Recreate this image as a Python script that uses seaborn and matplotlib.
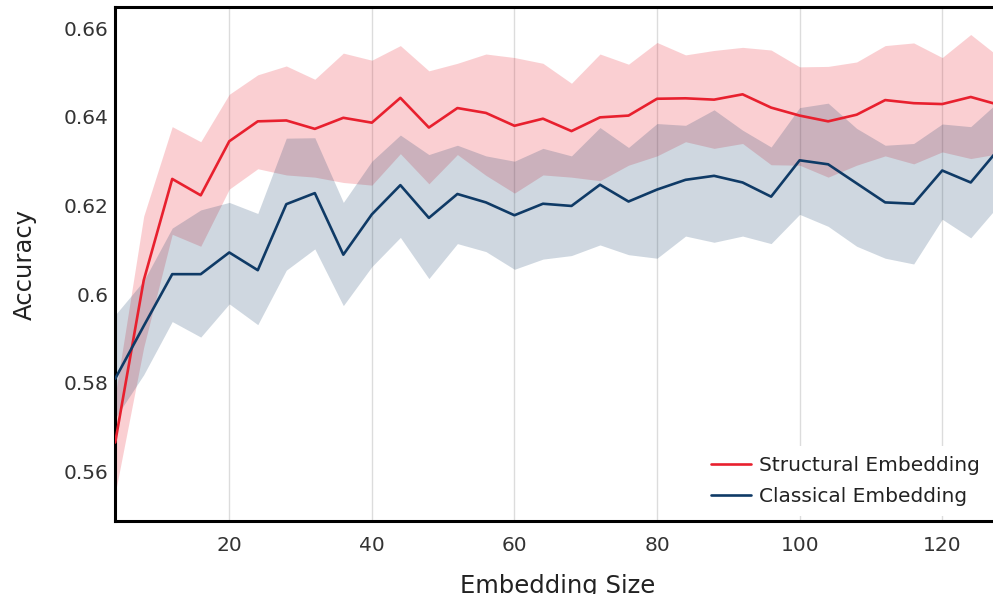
import matplotlib
matplotlib.use("Agg")
import matplotlib.pyplot as plt
import seaborn as sns
import pandas as pd

# Embedding sizes evaluated
sizes = [4, 8, 12, 16, 20, 24, 28, 32, 36, 40, 44, 48, 52, 56, 60, 64,
         68, 72, 76, 80, 84, 88, 92, 96, 100, 104, 108, 112, 116, 120, 124, 128]

# Structural embedding: mean accuracy and band bounds
structural_mean = [0.5665, 0.6031, 0.6260, 0.6223, 0.6345, 0.6390, 0.6392, 0.6373,
                   0.6398, 0.6387, 0.6443, 0.6376, 0.6420, 0.6409, 0.6380, 0.6396,
                   0.6368, 0.6399, 0.6403, 0.6441, 0.6442, 0.6439, 0.6451, 0.6421,
                   0.6403, 0.6390, 0.6405, 0.6438, 0.6431, 0.6429, 0.6445, 0.6427]
structural_upper = [0.5770, 0.6176, 0.6378, 0.6344, 0.6451, 0.6495, 0.6515, 0.6485,
                    0.6544, 0.6528, 0.6561, 0.6504, 0.6521, 0.6542, 0.6534, 0.6521,
                    0.6476, 0.6542, 0.6519, 0.6568, 0.6540, 0.6550, 0.6557, 0.6551,
                    0.6513, 0.6514, 0.6524, 0.6561, 0.6567, 0.6534, 0.6586, 0.6535]
structural_lower = [0.5550, 0.5880, 0.6135, 0.6108, 0.6237, 0.6283, 0.6269, 0.6264,
                    0.6252, 0.6246, 0.6317, 0.6249, 0.6315, 0.6268, 0.6228, 0.6269,
                    0.6264, 0.6256, 0.6291, 0.6312, 0.6344, 0.6329, 0.6340, 0.6292,
                    0.6291, 0.6264, 0.6291, 0.6312, 0.6294, 0.6321, 0.6306, 0.6317]

# Classical embedding: mean accuracy and band bounds
classical_mean = [0.5809, 0.5928, 0.6045, 0.6045, 0.6094, 0.6054, 0.6203, 0.6228,
                  0.6089, 0.6180, 0.6246, 0.6172, 0.6226, 0.6207, 0.6178, 0.6204,
                  0.6199, 0.6247, 0.6209, 0.6236, 0.6258, 0.6267, 0.6252, 0.6220,
                  0.6302, 0.6293, 0.6250, 0.6207, 0.6204, 0.6279, 0.6252, 0.6329]
classical_upper = [0.5953, 0.6030, 0.6149, 0.6190, 0.6207, 0.6182, 0.6352, 0.6353,
                   0.6207, 0.6300, 0.6359, 0.6315, 0.6336, 0.6312, 0.6300, 0.6329,
                   0.6312, 0.6376, 0.6331, 0.6385, 0.6381, 0.6416, 0.6370, 0.6332,
                   0.6421, 0.6431, 0.6374, 0.6336, 0.6340, 0.6384, 0.6378, 0.6436]
classical_lower = [0.5720, 0.5818, 0.5938, 0.5903, 0.5978, 0.5931, 0.6054, 0.6102,
                   0.5974, 0.6062, 0.6128, 0.6035, 0.6114, 0.6096, 0.6056, 0.6079,
                   0.6087, 0.6111, 0.6089, 0.6081, 0.6131, 0.6117, 0.6131, 0.6114,
                   0.6180, 0.6153, 0.6108, 0.6081, 0.6068, 0.6169, 0.6127, 0.6202]

series_names = ["Structural Embedding", "Classical Embedding"]
x_ticks = [20, 40, 60, 80, 100, 120]
y_ticks = [0.56, 0.58, 0.60, 0.62, 0.64, 0.66]
y_tick_labels = ["0.56", "0.58", "0.6", "0.62", "0.64", "0.66"]

RED = "#E8202E"
NAVY = "#0F3A66"

sns.set_theme(style="white")
plt.rcParams["font.family"] = ["DejaVu Sans"]

df = pd.DataFrame({
    "Embedding Size": sizes * 2,
    "Accuracy": structural_mean + classical_mean,
    "Model": [series_names[0]] * len(sizes) + [series_names[1]] * len(sizes),
})

fig = plt.figure(figsize=(9.93, 5.94), dpi=100)
ax = fig.add_axes([0.116, 0.1229, 0.8903, 0.8653])

# Uncertainty bands
ax.fill_between(sizes, structural_lower, structural_upper, color=RED,
                alpha=0.21, linewidth=0, zorder=1)
ax.fill_between(sizes, classical_lower, classical_upper, color=NAVY,
                alpha=0.2, linewidth=0, zorder=1)

sns.lineplot(data=df, x="Embedding Size", y="Accuracy", hue="Model",
             palette=[RED, NAVY], linewidth=1.9, ax=ax, errorbar=None, zorder=3)

ax.set_xlim(4, 128)
ax.set_ylim(0.54878, 0.66481)
ax.set_xticks(x_ticks)
ax.set_xticklabels([str(t) for t in x_ticks])
ax.set_yticks(y_ticks)
ax.set_yticklabels(y_tick_labels)

ax.grid(axis="x", color="#dcdcdc", linewidth=1.0, zorder=0)
ax.grid(axis="y", visible=False)
ax.set_axisbelow(True)

for side in ["left", "top", "bottom", "right"]:
    ax.spines[side].set_color("black")
    ax.spines[side].set_linewidth(2.2)

ax.tick_params(axis="both", length=0, labelsize=14.5, colors="#333333")
ax.tick_params(axis="x", pad=10.5)
ax.tick_params(axis="y", pad=5)

ax.set_xlabel("Embedding Size", fontsize=17.5, color="#222222", labelpad=14)
ax.set_ylabel("Accuracy", fontsize=17.5, color="#222222", labelpad=19)

leg = ax.legend(loc="lower right", bbox_to_anchor=(0.99, 0.01), frameon=True,
                fontsize=14.5, handlelength=2.0, handletextpad=0.4,
                labelspacing=0.6, borderpad=0.5, borderaxespad=0.0)
leg.get_frame().set_facecolor("white")
leg.get_frame().set_edgecolor("none")
leg.get_frame().set_alpha(1.0)
leg.set_zorder(5)
for txt in leg.get_texts():
    txt.set_color("#222222")

fig.savefig("out.png", dpi=100)
